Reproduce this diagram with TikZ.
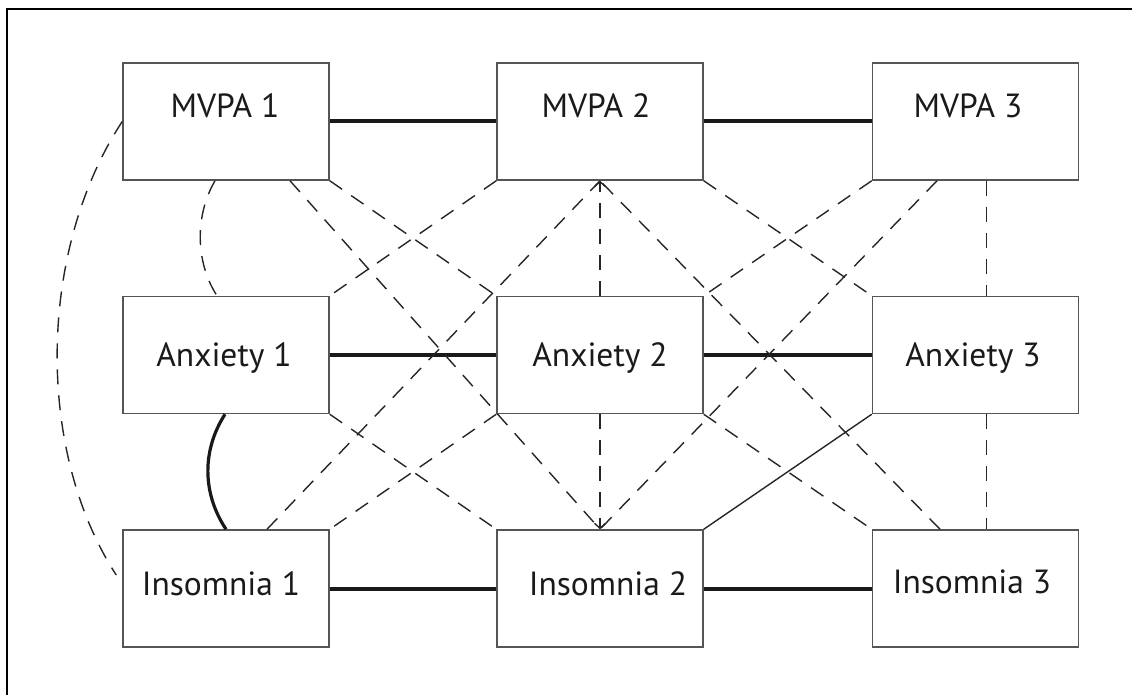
\documentclass[tikz,border=0pt]{standalone}
\usepackage{fontspec}
\setmainfont{PT Sans}
\usetikzlibrary{arrows.meta,calc}
\definecolor{boxgray}{HTML}{555555}
\definecolor{lnk}{HTML}{262626}
\definecolor{txt}{HTML}{1A1A1A}
\begin{document}
\begin{tikzpicture}[x=1pt,y=-1pt,
  box/.style={draw=boxgray,line width=1.5pt,minimum width=206pt,minimum height=117pt,inner sep=0pt},
  lbl/.style={anchor=base,inner sep=0pt,font=\fontsize{33.5}{34}\selectfont,text=txt},
  heavy/.style={draw=black!90,line width=4pt},
  dlink/.style={draw=lnk,line width=1.4pt,dash pattern=on 15pt off 11pt},
  slink/.style={draw=lnk,line width=1.4pt},
  tip/.style={-{Straight Barb[length=5pt,width=11pt,line width=1.4pt]}},
  frame/.style={draw=black,line width=2.5pt}
]
\useasboundingbox (0,0) rectangle (1132,695);
\draw[frame] (7,695) -- (7,9) -- (1132,9);

% boxes
\node[box] (mvpa1) at (226,121.5) {};
\node[box] (mvpa2) at (600,121.5) {};
\node[box] (mvpa3) at (975.5,121.5) {};
\node[box] (anx1) at (226,355) {};
\node[box] (anx2) at (600,355) {};
\node[box] (anx3) at (975.5,355) {};
\node[box] (ins1) at (226,588.5) {};
\node[box] (ins2) at (600,588.5) {};
\node[box] (ins3) at (975.5,588.5) {};

% labels
\node[lbl] (mvpa1t) at (225,118) {MVPA 1};
\node[lbl] (mvpa2t) at (596,118) {MVPA 2};
\node[lbl] (mvpa3t) at (968,118) {MVPA 3};
\node[lbl] (anx1t) at (224,366) {Anxiety 1};
\node[lbl] (anx2t) at (600,366) {Anxiety 2};
\node[lbl] (anx3t) at (973,366) {Anxiety 3};
\node[lbl] (ins1t) at (221,595) {Insomnia 1};
\node[lbl] (ins2t) at (608,595) {Insomnia 2};
\node[lbl] (ins3t) at (972,593) {Insomnia 3};

% thick horizontal links
\draw[heavy] (mvpa1.east) -- (mvpa2.west);
\draw[heavy] (mvpa2.east) -- (mvpa3.west);
\draw[heavy] (anx1.east) -- (anx2.west);
\draw[heavy] (anx2.east) -- (anx3.west);
\draw[heavy] (ins1.east) -- (ins2.west);
\draw[heavy] (ins2.east) -- (ins3.west);

% thick curve anx1 -> ins1
\draw[heavy,line width=3.2pt] ([xshift=-1pt]anx1.south) .. controls (202,450) and (202,493) .. (ins1.north);

% dashed curves
\draw[dlink] ([xshift=-11pt]mvpa1.south) .. controls (195,215) and (195,262) .. ([xshift=-9pt]anx1.north);
\draw[dlink] (mvpa1.west) .. controls (38,250) and (35,450) .. ([xshift=-6pt,yshift=13.5pt]ins1.west);

% corner diagonals
\draw[dlink] (mvpa1.south east) -- (anx2.north west);
\draw[dlink] (mvpa2.south west) -- (anx1.north east);
\draw[dlink] (mvpa2.south east) -- (anx3.north west);
\draw[dlink] (mvpa3.south west) -- (anx2.north east);
\draw[dlink] (anx1.south east) -- (ins2.north west);
\draw[dlink] (anx2.south west) -- (ins1.north east);
\draw[dlink] (anx2.south east) -- (ins3.north west);
\draw[slink] (anx3.south west) -- (ins2.north east);

% long diagonals
\draw[dlink] ([xshift=41pt]ins1.north) -- (mvpa2.south);
\draw[dlink] ([xshift=-35.5pt]ins3.north) -- (mvpa2.south);
\draw[dlink] ([xshift=64pt]mvpa1.south) -- (ins2.north);
\draw[dlink] ([xshift=-38.5pt]mvpa3.south) -- (ins2.north);

% verticals
\draw[dlink,tip] (anx2.north) -- (mvpa2.south);
\draw[dlink,tip] (anx2.south) -- (ins2.north);
\draw[dlink] ([xshift=11pt]mvpa3.south) -- ([xshift=11pt]anx3.north);
\draw[dlink] ([xshift=11pt]anx3.south) -- ([xshift=11pt]ins3.north);
\end{tikzpicture}
\end{document}
